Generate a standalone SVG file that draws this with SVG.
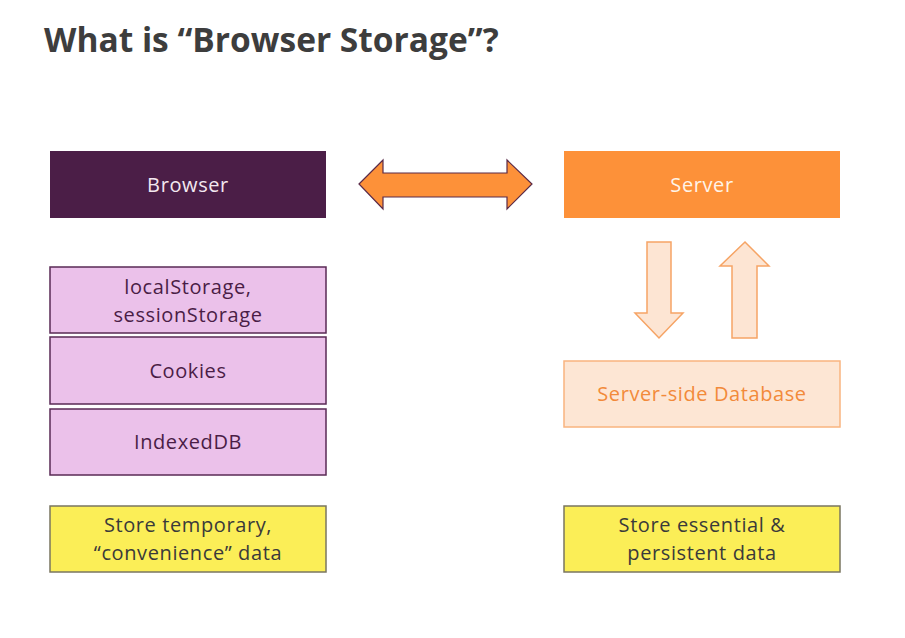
<svg xmlns="http://www.w3.org/2000/svg" width="905" height="638" viewBox="0 0 905 638">
<style>
.t{font-family:"Open Sans","Lato","Liberation Sans",sans-serif;font-size:20px;letter-spacing:0.6px;text-anchor:middle}
.store{fill:#ebc1ea;stroke:#5a2a55;stroke-width:1.5}
.note{fill:#fbee57;stroke:#7a7660;stroke-width:1.5}
.dt{fill:#4a1d46}
.nt{fill:#3a3a3a}
</style>
<rect width="905" height="638" fill="#ffffff"/>
<text x="44" y="52" font-family="'Open Sans','Liberation Sans',sans-serif" font-weight="bold" font-size="33.5" fill="#3d3d3d">What is “Browser Storage”?</text>
<g id="browser"><rect x="50" y="151" width="276" height="67" fill="#4b1e47"/><text class="t" x="188" y="192" fill="#f3e8f0">Browser</text></g>
<g id="server"><rect x="564" y="151" width="276" height="67" fill="#fd9139"/><text class="t" x="702" y="192" fill="#fff4e8">Server</text></g>
<g id="local"><rect class="store" x="50" y="267" width="276" height="66"/><text class="t dt" x="188" y="294">localStorage,</text><text class="t dt" x="188" y="322">sessionStorage</text></g>
<g id="cookies"><rect class="store" x="50" y="337" width="276" height="67"/><text class="t dt" x="188" y="378">Cookies</text></g>
<g id="indexeddb"><rect class="store" x="50" y="409" width="276" height="66"/><text class="t dt" x="188" y="449">IndexedDB</text></g>
<g id="database"><rect x="564" y="361" width="276" height="66" fill="#fde6d4" stroke="#f9b47f" stroke-width="1.5"/><text class="t" x="702" y="401" fill="#f28a3a">Server-side Database</text></g>
<g id="note-browser"><rect class="note" x="50" y="506" width="276" height="66"/><text class="t nt" x="188" y="532">Store temporary,</text><text class="t nt" x="188" y="560">“convenience” data</text></g>
<g id="note-server"><rect class="note" x="564" y="506" width="276" height="66"/><text class="t nt" x="702" y="532">Store essential &amp;</text><text class="t nt" x="702" y="560">persistent data</text></g>
<g id="connectors">
<polygon points="359,184 383,160 383,173 507,173 507,160 532,184 507,209 507,197 383,197 383,209" fill="#fd9139" stroke="#5a2a48" stroke-width="1.2"/>
<polygon points="647,242 671,242 671,313 683,313 659,338 635,313 647,313" fill="#fde5d3" stroke="#f6a465" stroke-width="1.5"/>
<polygon points="732,338 757,338 757,266 769,266 745,242 720,266 732,266" fill="#fde5d3" stroke="#f6a465" stroke-width="1.5"/>
</g>
</svg>
